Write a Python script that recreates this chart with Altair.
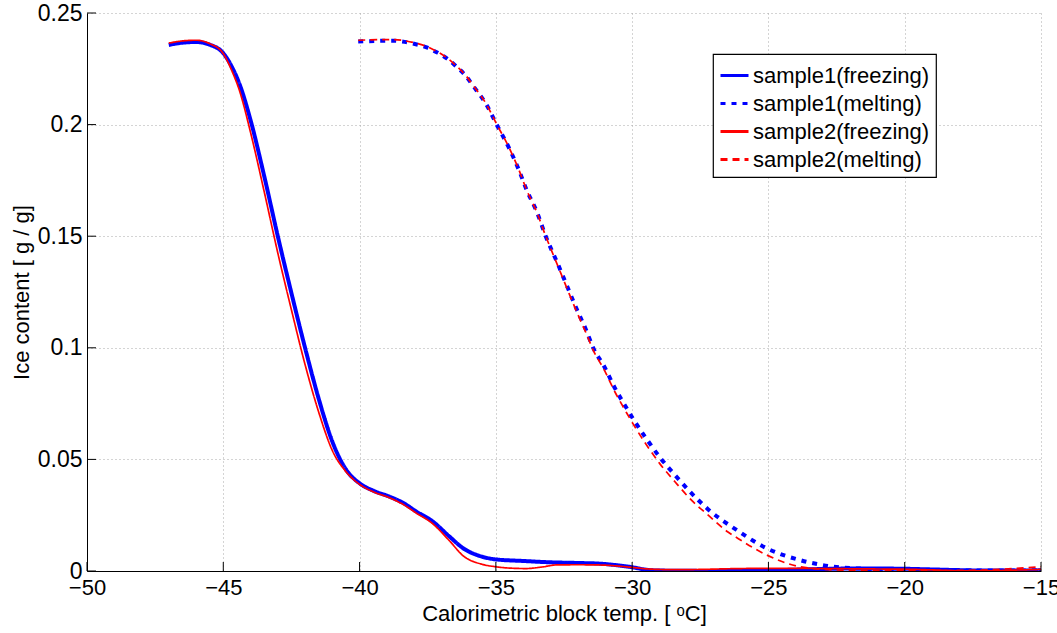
import altair as alt
import pandas as pd

# ---- data ----
s1f_T = [-47.0, -46.5, -46.0, -45.5, -45.0, -44.7, -44.4, -44.0, -43.5, -43.0, -42.5, -42.0,
         -41.5, -41.0, -40.5, -40.0, -39.5, -38.9, -38.4, -37.9, -37.35, -36.7, -36.2, -35.5,
         -35.0, -34.0, -33.0, -32.0, -31.2, -30.5, -30.0, -29.5, -29.0, -28.0, -27.0, -26.0, -25.0,
         -24.0, -23.0, -22.0, -21.0, -20.0, -19.0, -18.0, -17.0, -16.0, -15.0]
s1f_v = [0.2357, 0.2367, 0.2370, 0.2358, 0.2320, 0.2262, 0.2180, 0.2020, 0.1770, 0.1500, 0.1245,
         0.1000, 0.0772, 0.0580, 0.0455, 0.0393, 0.0360, 0.0333, 0.0305, 0.0265, 0.0225, 0.0154,
         0.0102, 0.0064, 0.0052, 0.0045, 0.0039, 0.0036, 0.0033, 0.0025, 0.0017, 0.0006, 0.0002, 0.0001,
         0.0000, 0.0001, 0.0003, 0.0006, 0.0009, 0.0011, 0.0011, 0.0010, 0.0007, 0.0004, 0.0002, 0.0002,
         0.0003]

s2f_T = [-47.0, -46.5, -46.0, -45.5, -45.0, -44.7, -44.4, -44.0, -43.5, -43.0, -42.5, -42.0,
         -41.5, -41.0, -40.5, -40.0, -39.5, -38.9, -38.4, -37.9, -37.35, -36.7, -36.2, -35.5,
         -35.0, -34.5, -33.9, -33.3, -32.8, -32.0, -31.2, -30.5, -30.0, -29.4, -28.5, -27.5, -26.5, -25.0,
         -24.0, -23.0, -22.0, -21.0, -20.0, -19.0, -18.0, -17.0, -16.0, -15.0]
s2f_v = [0.2365, 0.2375, 0.2378, 0.2363, 0.2318, 0.2245, 0.2150, 0.1965, 0.1700, 0.1425, 0.1170,
         0.0925, 0.0712, 0.0540, 0.0445, 0.0388, 0.0355, 0.0328, 0.0298, 0.0258, 0.0215, 0.0135,
         0.0068, 0.0030, 0.0019, 0.0013, 0.0011, 0.0018, 0.0027, 0.0028, 0.0027, 0.0022, 0.0016, 0.0009,
         0.0006, 0.0007, 0.0010, 0.0012, 0.0012, 0.0011, 0.0010, 0.0009, 0.0008, 0.0005, 0.0001, 0.0001,
         0.0004, 0.0007]

s1m_T = [-40.05, -38.82, -37.97, -37.54, -37.17, -36.8, -36.44, -36.13, -35.83, -35.34, -34.97, -34.54,
         -34.18, -33.87, -33.5, -33.17, -32.71, -32.38, -32.03, -31.69, -31.43, -31.02, -30.63, -30.2,
         -29.96, -29.49, -28.98, -28.43, -27.86, -27.21, -26.17, -25.07, -23.84, -22.6, -21.5, -20.2,
         -19.0, -17.1, -16.0, -15.0]
s1m_v = [0.2372, 0.2376, 0.2361, 0.2346, 0.2324, 0.2297, 0.2259, 0.2222, 0.2173, 0.2088, 0.2000, 0.1901,
         0.1804, 0.1707, 0.1610, 0.1500, 0.1371, 0.1274, 0.1172, 0.1080, 0.1000, 0.0915, 0.0819, 0.0729,
         0.0681, 0.0595, 0.0509, 0.0430, 0.0353, 0.0276, 0.0184, 0.0102, 0.0049, 0.0019, 0.0010, 0.0005,
         0.0003, 0.0002, 0.0002, 0.0004]

s2m_T = [-40.05, -38.82, -37.97, -37.54, -37.17, -36.8, -36.44, -36.13, -35.83, -35.34, -34.97, -34.54,
         -34.18, -33.87, -33.5, -33.17, -32.71, -32.38, -32.03, -31.69, -31.43, -31.02, -30.63, -30.2,
         -29.96, -29.49, -28.98, -28.43, -27.86, -27.21, -26.5, -26.17, -25.07, -23.84, -22.6, -21.5,
         -20.2, -19.0, -17.7, -16.5, -15.5, -15.0]
s2m_v = [0.2378, 0.2381, 0.2366, 0.2350, 0.2328, 0.2300, 0.2262, 0.2224, 0.2175, 0.2090, 0.2002, 0.1903,
         0.1805, 0.1707, 0.1608, 0.1500, 0.1362, 0.1263, 0.1160, 0.1066, 0.0990, 0.0900, 0.0802, 0.0708,
         0.0658, 0.0568, 0.0480, 0.0400, 0.0322, 0.0250, 0.0176, 0.0150, 0.0072, 0.0019, 0.0005, 0.0002,
         0.0002, 0.0002, 0.0003, 0.0008, 0.0015, 0.0019]

series_names = ["sample1(freezing)", "sample1(melting)", "sample2(freezing)", "sample2(melting)"]
series_colors = ["#0000ff", "#0000ff", "#ff0000", "#ff0000"]
series_dash = [[1, 0], [5, 6], [1, 0], [7, 5]]
blue_width = 4
red_width = 1.7

x_ticks = [-50, -45, -40, -35, -30, -25, -20, -15]
y_ticks = [0, 0.05, 0.1, 0.15, 0.2, 0.25]

W, H = 954, 558
FONT = "Liberation Sans"

rows = []
for name, Ts, vs in zip(series_names, [s1f_T, s1m_T, s2f_T, s2m_T], [s1f_v, s1m_v, s2f_v, s2m_v]):
    for t, v in zip(Ts, vs):
        rows.append({"T": t, "v": v, "series": name})
df = pd.DataFrame(rows)
df_blue = df[df["series"].str.startswith("sample1")]
df_red = df[df["series"].str.startswith("sample2")]

xscale = alt.Scale(domain=[-50, -15], nice=False, zero=False)
yscale = alt.Scale(domain=[0, 0.25], nice=False, zero=False)


def build(use_encode):
    leg_kw = dict(title=None, orient="none", legendX=626, legendY=41)
    if use_encode:
        leg_kw["encode"] = {"symbols": {"update": {"strokeWidth": {
            "signal": "indexof(datum.value, 'sample1') === 0 ? %s : %s" % (blue_width, red_width)}}}}
    leg = alt.Legend(**leg_kw)

    def line_layer(data, width):
        return alt.Chart(data).mark_line(interpolate="monotone", clip=True, strokeCap="butt",
                                         strokeWidth=width).encode(
            x=alt.X("T:Q", scale=xscale,
                    axis=alt.Axis(values=x_ticks, format="d", title="Calorimetric block temp. [ ᵒC]")),
            y=alt.Y("v:Q", scale=yscale,
                    axis=alt.Axis(values=y_ticks, format="~g", title="Ice content [ g / g]")),
            color=alt.Color("series:N", scale=alt.Scale(domain=series_names, range=series_colors), legend=leg),
            strokeDash=alt.StrokeDash("series:N", scale=alt.Scale(domain=series_names, range=series_dash),
                                      legend=leg),
            detail="series:N",
        )

    blue = line_layer(df_blue, blue_width)
    red = line_layer(df_red, red_width)

    xt = alt.Chart(pd.DataFrame({"t": x_ticks})).mark_rule(color="black", strokeWidth=1).encode(
        x=alt.X("t:Q", scale=xscale), y=alt.value(H), y2=alt.value(H - 9))
    yt = alt.Chart(pd.DataFrame({"t": y_ticks})).mark_rule(color="black", strokeWidth=1).encode(
        y=alt.Y("t:Q", scale=yscale), x=alt.value(0), x2=alt.value(9))

    return alt.layer(blue, red, xt, yt).properties(
        width=W, height=H,
        autosize=alt.AutoSizeParams(type="none"),
        padding={"left": 87, "top": 13, "right": 16, "bottom": 62},
        background="white",
    ).configure_view(stroke=None).configure_axis(
        domainColor="black", domainWidth=1, ticks=False,
        grid=True, gridColor="#a8a8a8", gridDash=[1, 3], gridWidth=1, gridOpacity=1,
        labelFont=FONT, labelFontSize=23, labelColor="black", labelPadding=5,
        titleFont=FONT, titleFontSize=22, titleFontWeight="normal", titleColor="black", titlePadding=6,
        labelFlush=False, labelOverlap=False,
    ).configure_axisY(labelPadding=5, titlePadding=4).configure_axisX(
        labelPadding=6, titlePadding=5, labelFontSize=22).configure_legend(
        strokeColor="black", strokeWidth=1.2, fillColor="white", padding=6,
        labelFont=FONT, labelFontSize=22, labelColor="black", labelOffset=3, labelLimit=400,
        symbolType="stroke", symbolSize=784, rowPadding=1, symbolStrokeWidth=3,
    )


try:
    chart = build(True)
    chart.save("out.html", embed_options={"renderer": "svg", "actions": False})
except Exception:
    chart = build(False)
    chart.save("out.html", embed_options={"renderer": "svg", "actions": False})
